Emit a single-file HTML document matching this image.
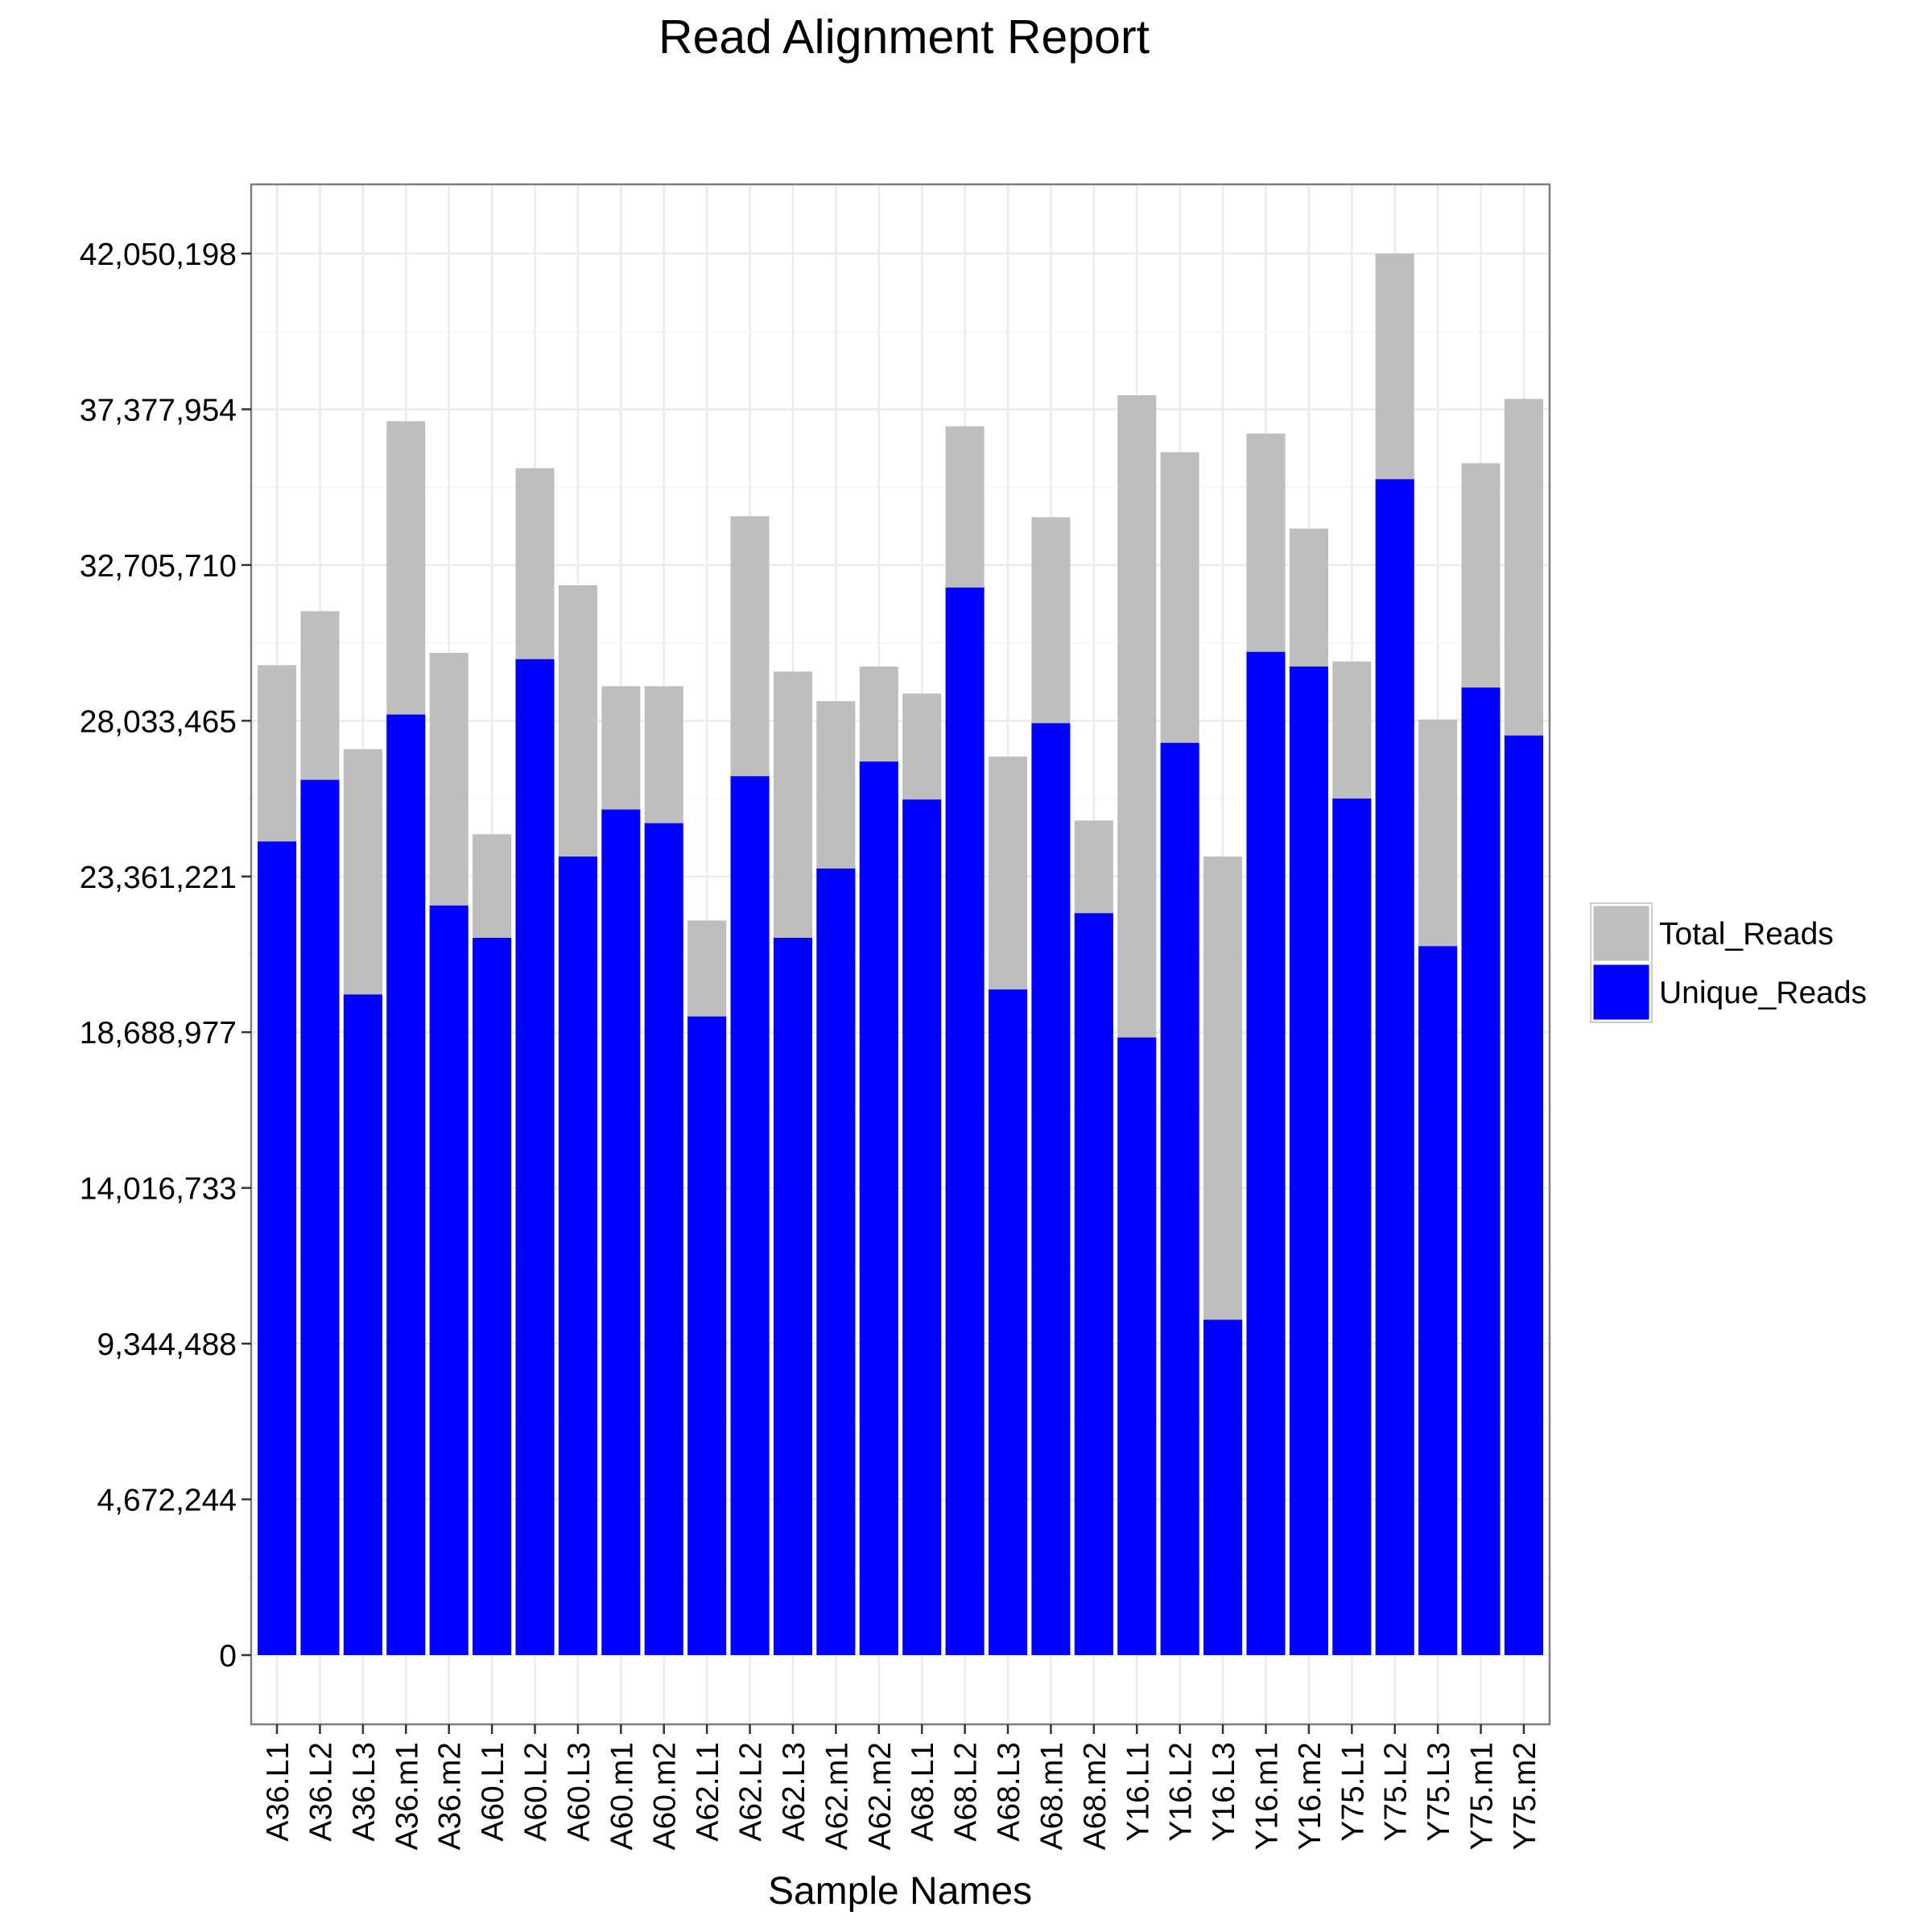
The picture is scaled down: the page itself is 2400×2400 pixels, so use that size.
<!DOCTYPE html>
<html><head><meta charset="utf-8"><style>
html,body{margin:0;padding:0;background:#fff;}
svg{display:block;font-family:"Liberation Sans",Arial,sans-serif;}
</style></head><body>
<svg id="chart" width="2400" height="2400" viewBox="0 0 2400 2400" xmlns="http://www.w3.org/2000/svg">
<rect width="2400" height="2400" fill="#fff"/>
<text x="1123" y="66" font-size="59" text-anchor="middle" fill="#000">Read Alignment Report</text>
<g id="grid"></g>
<g id="bars"></g>
<rect x="312" y="229" width="1613" height="1913" fill="none" stroke="#7f7f7f" stroke-width="2.5"/>
<g id="axes"></g>
<text x="1118" y="2365" font-size="48" text-anchor="middle" fill="#000">Sample Names</text>
<g>
<rect x="1978" y="1124" width="72" height="71" fill="#bebebe" stroke="#fff" stroke-width="3"/>
<rect x="1978" y="1197" width="72" height="71" fill="#0000ff" stroke="#fff" stroke-width="3"/>
<rect x="1976" y="1122" width="76" height="148" fill="none" stroke="#cccccc" stroke-width="2"/>
<text x="2061" y="1173" font-size="39" fill="#000">Total_Reads</text>
<text x="2061" y="1246" font-size="39" fill="#000">Unique_Reads</text>
</g>
</svg>
<script>
const categories=["A36.L1","A36.L2","A36.L3","A36.m1","A36.m2","A60.L1","A60.L2","A60.L3","A60.m1","A60.m2","A62.L1","A62.L2","A62.L3","A62.m1","A62.m2","A68.L1","A68.L2","A68.L3","A68.m1","A68.m2","Y16.L1","Y16.L2","Y16.L3","Y16.m1","Y16.m2","Y75.L1","Y75.L2","Y75.L3","Y75.m1","Y75.m2"];
const totalReads=[29.70,31.32,27.18,37.02,30.07,24.63,35.61,32.10,29.07,29.07,22.04,34.17,29.51,28.62,29.66,28.85,36.87,26.96,34.14,25.04,37.80,36.09,23.96,36.65,33.80,29.81,42.05,28.07,35.76,37.69];
const uniqueReads=[24.41,26.26,19.82,28.22,22.49,21.52,29.88,23.96,25.37,24.96,19.16,26.37,21.52,23.60,26.81,25.67,32.03,19.97,27.96,22.26,18.53,27.37,10.06,30.10,29.66,25.70,35.28,21.27,29.03,27.59];
const tickValues=[0,4672244,9344488,14016733,18688977,23361221,28033465,32705710,37377954,42050198];
const tickLabels=["0","4,672,244","9,344,488","14,016,733","18,688,977","23,361,221","28,033,465","32,705,710","37,377,954","42,050,198"];
const NS="http://www.w3.org/2000/svg";
const PL=312,PR=1925,PT=229,PB=2142;
const Y0=2056,YMAX=315,VMAX=42050198;
function y(v){return Y0-(v/VMAX)*(Y0-YMAX);}
const unit=(PR-PL)/(categories.length-1+1.2);
function x(i){return PL+unit*(0.6+i);}
function mk(tag,attrs,parent){const e=document.createElementNS(NS,tag);for(const k in attrs)e.setAttribute(k,attrs[k]);parent.appendChild(e);return e;}
const grid=document.getElementById('grid'),bars=document.getElementById('bars'),axes=document.getElementById('axes');
mk('rect',{x:PL,y:PT,width:PR-PL,height:PB-PT,fill:'#fff'},grid);
for(let i=0;i<tickValues.length-1;i++){const yy=(y(tickValues[i])+y(tickValues[i+1]))/2;const l=mk('line',{x1:PL,x2:PR,y1:yy,y2:yy,stroke:'#f5f5f5','stroke-width':1.5},grid);

}
tickValues.forEach(function(v,i){const yy=y(v);
const g=mk('line',{x1:PL,x2:PR,y1:yy,y2:yy,stroke:'#ebebeb','stroke-width':2.5},grid);


const t=mk('line',{x1:PL-12,x2:PL,y1:yy,y2:yy,stroke:'#333','stroke-width':2.5},axes);


const lb=mk('text',{x:PL-18,y:yy+14,'font-size':39,'text-anchor':'end',fill:'#000'},axes);
lb.textContent=tickLabels[i];

});
categories.forEach(function(c,i){const cx=x(i);
const g=mk('line',{x1:cx,x2:cx,y1:PT,y2:PB,stroke:'#ebebeb','stroke-width':2.5},grid);


const w=unit*0.9;
const bt=mk('rect',{x:cx-w/2,y:y(totalReads[i]*1e6),width:w,height:y(0)-y(totalReads[i]*1e6),fill:'#bebebe'},bars);


const bu=mk('rect',{x:cx-w/2,y:y(uniqueReads[i]*1e6),width:w,height:y(0)-y(uniqueReads[i]*1e6),fill:'#0000ff'},bars);


const t=mk('line',{x1:cx,x2:cx,y1:PB,y2:PB+12,stroke:'#333','stroke-width':2.5},axes);


const lb=mk('text',{x:0,y:0,'font-size':39,'text-anchor':'end',fill:'#000',transform:'translate('+(cx+14)+','+(PB+22)+') rotate(-90)'},axes);
lb.textContent=c;

});
</script>
</body></html>
